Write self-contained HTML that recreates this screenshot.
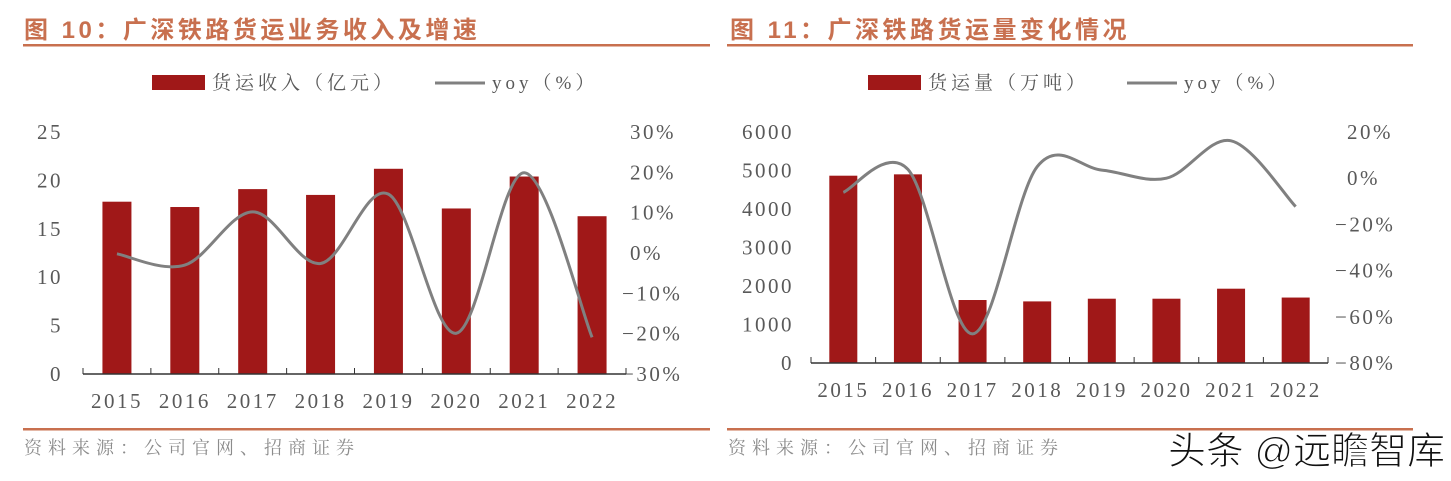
<!DOCTYPE html>
<html><head><meta charset="utf-8">
<style>
body{margin:0;background:#fff;width:1451px;height:481px;overflow:hidden;position:relative;font-family:"Liberation Serif","Noto Serif CJK SC",serif}
svg{position:absolute;left:0;top:0}
.t{font-family:"Liberation Sans","Noto Sans CJK SC",sans-serif;font-weight:bold;font-size:24px;letter-spacing:3.5px;fill:#c8704f}
.ax{font-family:"Liberation Serif",serif;font-size:21px;letter-spacing:2.5px;fill:#595959}
.lg{font-family:"Liberation Serif","Noto Serif CJK SC",serif;font-size:19px;letter-spacing:4px;fill:#595959}
.src{font-family:"Liberation Serif","Noto Serif CJK SC",serif;font-size:18px;letter-spacing:6px;fill:#8c8c8c}
.wm{font-family:"Liberation Sans","Noto Sans CJK SC",sans-serif;font-size:38px;fill:#111;stroke:#fff;stroke-width:1}
</style></head><body>
<svg id="s" width="1451" height="481" xmlns="http://www.w3.org/2000/svg">
<text class="t" x="24" y="38">图 10：广深铁路货运业务收入及增速</text>
<text class="t" x="730" y="38">图 11：广深铁路货运量变化情况</text>
<rect x="23" y="44" width="687" height="2.5" fill="#c8704f"/>
<rect x="727" y="44" width="686" height="2.5" fill="#c8704f"/>
<rect x="23" y="428" width="687" height="2.5" fill="#c8704f"/>
<rect x="727" y="428" width="686" height="2.5" fill="#c8704f"/>
<text class="src" x="24" y="454">资料来源：公司官网、招商证券</text>
<text class="src" x="728" y="454">资料来源：公司官网、招商证券</text>
<text class="wm" x="1168" y="464">头条 @远瞻智库</text>

<rect x="152" y="75" width="53" height="15" fill="#a01818"/>
<text class="lg" x="212" y="89">货运收入（亿元）</text>
<line x1="435" y1="83" x2="485" y2="83" stroke="#808080" stroke-width="3"/>
<text class="lg" x="492" y="89">yoy（%）</text>
<rect x="868" y="75" width="53" height="15" fill="#a01818"/>
<text class="lg" x="928" y="89">货运量（万吨）</text>
<line x1="1127" y1="83" x2="1177" y2="83" stroke="#808080" stroke-width="3"/>
<text class="lg" x="1184" y="89">yoy（%）</text>
<g id="c1"></g><g id="c2"></g>
</svg>
<script>
const years=["2015","2016","2017","2018","2019","2020","2021","2022"];
const revenue=[17.8,17.25,19.1,18.5,21.2,17.1,20.4,16.3];
const revenueYoy=[-0.2,-3,10.2,-2.6,14.6,-19.9,19.9,-20.9];
const leftTicks1=[0,5,10,15,20,25];
const rightTicks1=[-30,-20,-10,0,10,20,30];
const volume=[4865,4900,1636,1600,1670,1670,1930,1700];
const volumeYoy=[-6.1,3.8,-67.4,5,3.5,0,16.2,-12.3];
const leftTicks2=[0,1000,2000,3000,4000,5000,6000];
const rightTicks2=[-80,-60,-40,-20,0,20];
const NS="http://www.w3.org/2000/svg";
function mk(p,tag,attrs){const e=document.createElementNS(NS,tag);for(const k in attrs)e.setAttribute(k,attrs[k]);p.appendChild(e);return e;}
function smooth(pts){let d="M"+pts[0][0]+","+pts[0][1];for(let i=0;i<pts.length-1;i++){const p0=pts[i-1]||pts[i],p1=pts[i],p2=pts[i+1],p3=pts[i+2]||p2;const c1x=p1[0]+(p2[0]-p0[0])/6,c1y=p1[1]+(p2[1]-p0[1])/6,c2x=p2[0]-(p3[0]-p1[0])/6,c2y=p2[1]-(p3[1]-p1[1])/6;d+=" C"+c1x+","+c1y+" "+c2x+","+c2y+" "+p2[0]+","+p2[1];}return d;}
function chart(g,cfg,bars,yoy,lt,rt,pfx){
 const y=v=>cfg.y0-(v-lt[0])/(lt[lt.length-1]-lt[0])*(cfg.y0-cfg.y1);
 const yr=v=>cfg.y0-(v-rt[0])/(rt[rt.length-1]-rt[0])*(cfg.y0-cfg.y1);
 const cw=(cfg.x1-cfg.x0)/years.length;
 const xc=i=>cfg.x0+cw*(i+0.5);
 lt.forEach(v=>{const t=mk(g,"text",{x:cfg.lx,y:y(v)+7,"text-anchor":"end",class:"ax"});t.textContent=String(v);
 
 });
 rt.forEach(v=>{const t=mk(g,"text",{x:cfg.rx+(v<0?0:cfg.po),y:yr(v)+7,class:"ax"});t.textContent=(v<0?"−":"")+Math.abs(v)+"%";
 
 });
 bars.forEach((v,i)=>{const r=mk(g,"rect",{x:xc(i)-cfg.bw/2,y:y(v),width:cfg.bw,height:cfg.y0-y(v),fill:"#a01818"});
 
 
 const t=mk(g,"text",{x:xc(i),y:cfg.xly,"text-anchor":"middle",class:"ax"});t.textContent=years[i];
 
 });
 const ax=mk(g,"line",{x1:cfg.x0,y1:cfg.y0,x2:cfg.x1,y2:cfg.y0,stroke:"#333","stroke-width":1.5});
 
 
 for(let i=0;i<=years.length;i++){const tk=mk(g,"line",{x1:cfg.x0+cw*i,y1:cfg.y0,x2:cfg.x0+cw*i,y2:cfg.y0-6,stroke:"#333","stroke-width":1});
 
 }
 const pts=yoy.map((v,i)=>[xc(i),yr(v)]);
 const p=mk(g,"path",{d:smooth(pts),fill:"none",stroke:"#808080","stroke-width":3});
 
 
}
chart(document.getElementById("c1"),{x0:83,x1:626,y0:374,y1:132,bw:29,lx:63,rx:622,po:8,xly:408},revenue,revenueYoy,leftTicks1,rightTicks1,"chart1");
chart(document.getElementById("c2"),{x0:811,x1:1328,y0:363,y1:132,bw:28,lx:794,rx:1335,po:12,xly:397},volume,volumeYoy,leftTicks2,rightTicks2,"chart2");
</script>
</body></html>
